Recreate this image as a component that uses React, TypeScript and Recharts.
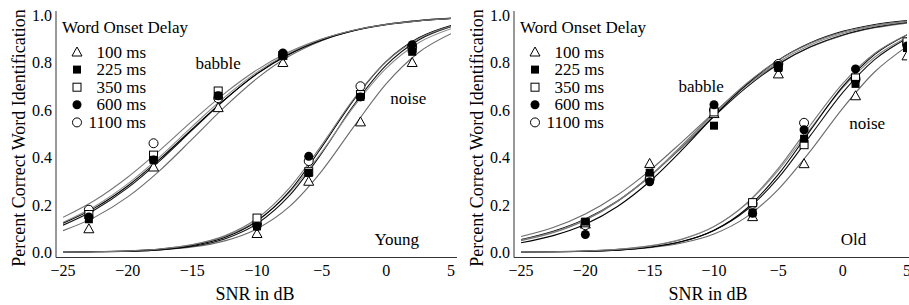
import React from 'react';
import {ComposedChart, Line, Scatter, XAxis, YAxis, ReferenceDot} from 'recharts';

const FONT = 'Liberation Serif, Tinos, Times New Roman, Times, FreeSerif, Nimbus Roman, DejaVu Serif, Noto Serif, serif';
const AXIS = '#333';

// word onset delays, one marker each
const delays = ['100 ms', '225 ms', '350 ms', '600 ms', '1100 ms'];
const markerKinds = ['triangle', 'squareFilled', 'square', 'circleFilled', 'circle'];
const curveColors = ['#6a6a6a', '#111', '#8c8c8c', '#000', '#787878'];
const drawOrder = [0, 4, 2, 1, 3];

const snrTicks = [-25, -20, -15, -10, -5, 0, 5];
const snrMinorTicks = [-25, -24, -23, -22, -21, -20, -19, -18, -17, -16, -15, -14, -13, -12, -11, -10, -9, -8, -7, -6, -5, -4, -3, -2, -1, 0, 1, 2, 3, 4, 5];
const pcTicks = [0, 0.2, 0.4, 0.6, 0.8, 1];
const pcMinorTicks = [0, 0.05, 0.1, 0.15, 0.2, 0.25, 0.3, 0.35, 0.4, 0.45, 0.5, 0.55, 0.6, 0.65, 0.7, 0.75, 0.8, 0.85, 0.9, 0.95, 1];

const fitSnr = [-25, -22.5, -20, -17.5, -15, -12.5, -10, -7.5, -5, -2.5, 0, 2.5, 5];

// Young listeners, fitted curves
const youngBabble100 = [0.092, 0.150, 0.234, 0.346, 0.478, 0.613, 0.733, 0.827, 0.892, 0.935, 0.961, 0.977, 0.987];
const youngBabble225 = [0.115, 0.181, 0.272, 0.387, 0.516, 0.643, 0.753, 0.837, 0.897, 0.936, 0.961, 0.977, 0.986];
const youngBabble350 = [0.127, 0.196, 0.289, 0.404, 0.531, 0.654, 0.759, 0.840, 0.898, 0.936, 0.961, 0.976, 0.986];
const youngBabble600 = [0.123, 0.189, 0.280, 0.394, 0.520, 0.644, 0.752, 0.835, 0.894, 0.934, 0.959, 0.975, 0.985];
const youngBabble1100 = [0.148, 0.221, 0.317, 0.431, 0.554, 0.670, 0.769, 0.845, 0.899, 0.936, 0.960, 0.975, 0.985];
const youngNoise100 = [0.001, 0.002, 0.005, 0.011, 0.023, 0.049, 0.100, 0.193, 0.343, 0.531, 0.711, 0.842, 0.921];
const youngNoise225 = [0.001, 0.002, 0.005, 0.011, 0.026, 0.057, 0.121, 0.239, 0.418, 0.622, 0.789, 0.895, 0.951];
const youngNoise350 = [0.002, 0.003, 0.007, 0.015, 0.032, 0.067, 0.135, 0.252, 0.423, 0.615, 0.776, 0.883, 0.942];
const youngNoise600 = [0.001, 0.003, 0.006, 0.013, 0.029, 0.063, 0.132, 0.257, 0.443, 0.644, 0.805, 0.904, 0.956];
const youngNoise1100 = [0.001, 0.003, 0.007, 0.015, 0.033, 0.070, 0.143, 0.271, 0.452, 0.648, 0.804, 0.901, 0.953];

// Young listeners, measured points
const youngBabbleSnr = [-23, -18, -13, -8];
const youngBabblePts100 = [0.10, 0.36, 0.61, 0.80];
const youngBabblePts225 = [0.14, 0.39, 0.66, 0.83];
const youngBabblePts350 = [0.16, 0.41, 0.68, 0.83];
const youngBabblePts600 = [0.15, 0.39, 0.66, 0.84];
const youngBabblePts1100 = [0.18, 0.46, 0.65, 0.83];
const youngNoiseSnr = [-10, -6, -2, 2];
const youngNoisePts100 = [0.08, 0.30, 0.55, 0.80];
const youngNoisePts225 = [0.11, 0.335, 0.655, 0.845];
const youngNoisePts350 = [0.145, 0.34, 0.665, 0.86];
const youngNoisePts600 = [0.11, 0.405, 0.655, 0.875];
const youngNoisePts1100 = [0.12, 0.385, 0.70, 0.865];

// Old listeners, fitted curves
const oldBabble100 = [0.067, 0.105, 0.162, 0.242, 0.345, 0.465, 0.589, 0.703, 0.796, 0.865, 0.914, 0.946, 0.966];
const oldBabble225 = [0.054, 0.089, 0.141, 0.217, 0.320, 0.443, 0.573, 0.694, 0.793, 0.866, 0.916, 0.949, 0.969];
const oldBabble350 = [0.052, 0.086, 0.138, 0.216, 0.320, 0.446, 0.580, 0.703, 0.802, 0.874, 0.922, 0.953, 0.972];
const oldBabble600 = [0.041, 0.071, 0.119, 0.194, 0.299, 0.431, 0.574, 0.706, 0.810, 0.883, 0.931, 0.960, 0.977];
const oldBabble1100 = [0.050, 0.083, 0.136, 0.215, 0.321, 0.451, 0.587, 0.711, 0.810, 0.881, 0.928, 0.957, 0.975];
const oldNoise100 = [0.001, 0.002, 0.005, 0.010, 0.020, 0.040, 0.078, 0.149, 0.266, 0.428, 0.607, 0.761, 0.868];
const oldNoise225 = [0.001, 0.002, 0.005, 0.011, 0.022, 0.046, 0.093, 0.178, 0.314, 0.493, 0.673, 0.813, 0.902];
const oldNoise350 = [0.002, 0.003, 0.007, 0.014, 0.028, 0.057, 0.110, 0.204, 0.346, 0.522, 0.693, 0.823, 0.906];
const oldNoise600 = [0.001, 0.002, 0.005, 0.010, 0.022, 0.046, 0.094, 0.184, 0.329, 0.515, 0.698, 0.834, 0.916];
const oldNoise1100 = [0.001, 0.003, 0.006, 0.013, 0.027, 0.055, 0.109, 0.206, 0.354, 0.537, 0.711, 0.839, 0.917];

// Old listeners, measured points
const oldBabbleSnr = [-20, -15, -10, -5];
const oldBabblePts100 = [0.12, 0.375, 0.585, 0.752];
const oldBabblePts225 = [0.13, 0.336, 0.534, 0.777];
const oldBabblePts350 = [0.125, 0.32, 0.592, 0.785];
const oldBabblePts600 = [0.076, 0.298, 0.622, 0.787];
const oldBabblePts1100 = [0.115, 0.31, 0.60, 0.794];
const oldNoiseSnr = [-7, -3, 1, 5];
const oldNoisePts100 = [0.151, 0.374, 0.66, 0.828];
const oldNoisePts225 = [0.168, 0.479, 0.71, 0.861];
const oldNoisePts350 = [0.21, 0.454, 0.735, 0.887];
const oldNoisePts600 = [0.165, 0.517, 0.773, 0.87];
const oldNoisePts1100 = [0.205, 0.546, 0.73, 0.88];

const fmtSnr = (v: number) => (v < 0 ? '\u2212' + Math.abs(v) : String(v));
const fmtPc = (v: number) => v.toFixed(1);

function Marker({kind, cx, cy}: {kind: string, cx: number, cy: number}) {
    switch (kind) {
        case 'triangle':
            return <polygon points={`${cx},${cy - 5} ${cx + 5},${cy + 4} ${cx - 5},${cy + 4}`} fill="#fff" stroke="#000" strokeWidth={1}/>;
        case 'squareFilled':
            return <rect x={cx - 4} y={cy - 4} width={8} height={8} fill="#000"/>;
        case 'square':
            return <rect x={cx - 4} y={cy - 4} width={8} height={8} fill="#fff" stroke="#000" strokeWidth={1}/>;
        case 'circleFilled':
            return <circle cx={cx} cy={cy} r={4.5} fill="#000"/>;
        default:
            return <circle cx={cx} cy={cy} r={4.5} fill="#fff" stroke="#000" strokeWidth={1}/>;
    }
}

type PanelProps = {
    left: number,
    marginRight: number,
    babbleFits: number[][],
    noiseFits: number[][],
    babbleSnr: number[],
    babblePts: number[][],
    noiseSnr: number[],
    noisePts: number[][],
    group: string,
    babbleAt: [number, number],
    noiseAt: [number, number],
    groupAt: [number, number],
    titleX: number,
}

function Panel(p: PanelProps) {
    const rows = fitSnr.map((x, i) => {
        const row: Record<string, number> = {x};
        p.babbleFits.forEach((f, d) => { row['b' + d] = f[i]; });
        p.noiseFits.forEach((f, d) => { row['n' + d] = f[i]; });
        return row;
    });
    const pts = delays.map((_, d) => [
        ...p.babbleSnr.map((x, i) => ({x, y: p.babblePts[d][i]})),
        ...p.noiseSnr.map((x, i) => ({x, y: p.noisePts[d][i]})),
    ]);

    const xBase = {type: 'number' as const, dataKey: 'x', domain: [-25, 5], allowDataOverflow: true, padding: {left: 7, right: 6}, interval: 0};
    const yBase = {type: 'number' as const, domain: [0, 1], allowDataOverflow: true, padding: {top: 4, bottom: 5}, interval: 0};
    const tickStyle = {fontSize: 16, fill: '#000', fontFamily: FONT, style: {fontFamily: FONT}};
    const textStyle = {fontSize: 17, fill: '#000', fontFamily: FONT, style: {fontFamily: FONT}};

    return (
        <div style={{position: 'absolute', left: p.left, top: 0, width: 460, height: 305, fontFamily: FONT}}>
            <ComposedChart width={460} height={305} data={rows}
                           margin={{top: 11, right: p.marginRight, bottom: 3.5, left: 0}}
                           style={{fontFamily: FONT}}>
                <XAxis xAxisId={0} {...xBase} ticks={snrTicks} height={44} tickLine={false} tickSize={0} tickMargin={7}
                       axisLine={{stroke: AXIS}} tick={tickStyle} tickFormatter={fmtSnr}/>
                <XAxis xAxisId="xM" {...xBase} ticks={snrTicks} height={0} mirror tick={false} tickSize={5}
                       axisLine={false} tickLine={{stroke: AXIS}}/>
                <XAxis xAxisId="xm" {...xBase} ticks={snrMinorTicks} height={0} mirror tick={false} tickSize={2.5}
                       axisLine={false} tickLine={{stroke: AXIS}}/>
                <XAxis xAxisId="xt" {...xBase} orientation="top" ticks={snrTicks} height={0} mirror tick={false} tickSize={5}
                       axisLine={{stroke: AXIS}} tickLine={{stroke: AXIS}}/>
                <XAxis xAxisId="xtm" {...xBase} orientation="top" ticks={snrMinorTicks} height={0} mirror tick={false} tickSize={2.5}
                       axisLine={false} tickLine={{stroke: AXIS}}/>

                <YAxis yAxisId={0} {...yBase} ticks={pcTicks} width={56} tickLine={false} tickSize={0} tickMargin={4}
                       axisLine={{stroke: AXIS}} tick={tickStyle} tickFormatter={fmtPc}/>
                <YAxis yAxisId="yM" {...yBase} ticks={pcTicks} width={0} mirror tick={false} tickSize={5}
                       axisLine={false} tickLine={{stroke: AXIS}}/>
                <YAxis yAxisId="ym" {...yBase} ticks={pcMinorTicks} width={0} mirror tick={false} tickSize={2.5}
                       axisLine={false} tickLine={{stroke: AXIS}}/>
                <YAxis yAxisId="yr" {...yBase} orientation="right" ticks={pcTicks} width={0} mirror tick={false} tickSize={5}
                       axisLine={{stroke: AXIS}} tickLine={{stroke: AXIS}}/>
                <YAxis yAxisId="yrm" {...yBase} orientation="right" ticks={pcMinorTicks} width={0} mirror tick={false} tickSize={2.5}
                       axisLine={false} tickLine={{stroke: AXIS}}/>

                {delays.map((d, i) => (
                    <Line key={'b' + d} type="monotone" dataKey={'b' + i} stroke={curveColors[i]} strokeWidth={1.1}
                          dot={false} isAnimationActive={false}/>
                ))}
                {delays.map((d, i) => (
                    <Line key={'n' + d} type="monotone" dataKey={'n' + i} stroke={curveColors[i]} strokeWidth={1.1}
                          dot={false} isAnimationActive={false}/>
                ))}
                {drawOrder.map(i => (
                    <Scatter key={delays[i]} data={pts[i]} dataKey="y" isAnimationActive={false}
                             shape={(s: any) => <Marker kind={markerKinds[i]} cx={s.cx} cy={s.cy}/>}/>
                ))}

                <ReferenceDot x={p.babbleAt[0]} y={p.babbleAt[1]} r={0} fill="none" stroke="none"
                              label={{value: 'babble', position: 'center', ...textStyle}}/>
                <ReferenceDot x={p.noiseAt[0]} y={p.noiseAt[1]} r={0} fill="none" stroke="none"
                              label={{value: 'noise', position: 'center', ...textStyle}}/>
                <ReferenceDot x={p.groupAt[0]} y={p.groupAt[1]} r={0} fill="none" stroke="none"
                              label={{value: p.group, position: 'center', ...textStyle}}/>
            </ComposedChart>

            {/* legend and axis titles */}
            <svg width={460} height={305} style={{position: 'absolute', left: 0, top: 0, pointerEvents: 'none', fontFamily: FONT}}>
                <text x={62} y={32.5} fontSize={17} fill="#000" style={{fontFamily: FONT}}>Word Onset Delay</text>
                {delays.map((d, i) => (
                    <g key={d}>
                        <Marker kind={markerKinds[i]} cx={77} cy={52 + 17.6 * i}/>
                        <text x={146} y={52 + 17.6 * i + 5.5} textAnchor="end" fontSize={17} fill="#000"
                              style={{fontFamily: FONT}}>{d}</text>
                    </g>
                ))}
                <text transform="translate(25,138) rotate(-90)" textAnchor="middle" fontSize={18} fill="#000"
                      style={{fontFamily: FONT}}>Percent Correct Word Identification</text>
                <text x={p.titleX} y={300} textAnchor="middle" fontSize={18} fill="#000"
                      style={{fontFamily: FONT}}>SNR in dB</text>
            </svg>
        </div>
    );
}

export default function App() {
    return (
        <div style={{position: 'absolute', left: 0, top: 0, width: 909, height: 305, overflow: 'hidden', background: '#fff'}}>
            <Panel left={0} marginRight={3}
                   babbleFits={[youngBabble100, youngBabble225, youngBabble350, youngBabble600, youngBabble1100]}
                   noiseFits={[youngNoise100, youngNoise225, youngNoise350, youngNoise600, youngNoise1100]}
                   babbleSnr={youngBabbleSnr}
                   babblePts={[youngBabblePts100, youngBabblePts225, youngBabblePts350, youngBabblePts600, youngBabblePts1100]}
                   noiseSnr={youngNoiseSnr}
                   noisePts={[youngNoisePts100, youngNoisePts225, youngNoisePts350, youngNoisePts600, youngNoisePts1100]}
                   group="Young" babbleAt={[-13.0, 0.80]} noiseAt={[1.7, 0.65]} groupAt={[0.8, 0.055]} titleX={255}/>
            <Panel left={458} marginRight={5}
                   babbleFits={[oldBabble100, oldBabble225, oldBabble350, oldBabble600, oldBabble1100]}
                   noiseFits={[oldNoise100, oldNoise225, oldNoise350, oldNoise600, oldNoise1100]}
                   babbleSnr={oldBabbleSnr}
                   babblePts={[oldBabblePts100, oldBabblePts225, oldBabblePts350, oldBabblePts600, oldBabblePts1100]}
                   noiseSnr={oldNoiseSnr}
                   noisePts={[oldNoisePts100, oldNoisePts225, oldNoisePts350, oldNoisePts600, oldNoisePts1100]}
                   group="Old" babbleAt={[-11.0, 0.70]} noiseAt={[1.9, 0.547]} groupAt={[0.85, 0.055]} titleX={250}/>
        </div>
    );
}
